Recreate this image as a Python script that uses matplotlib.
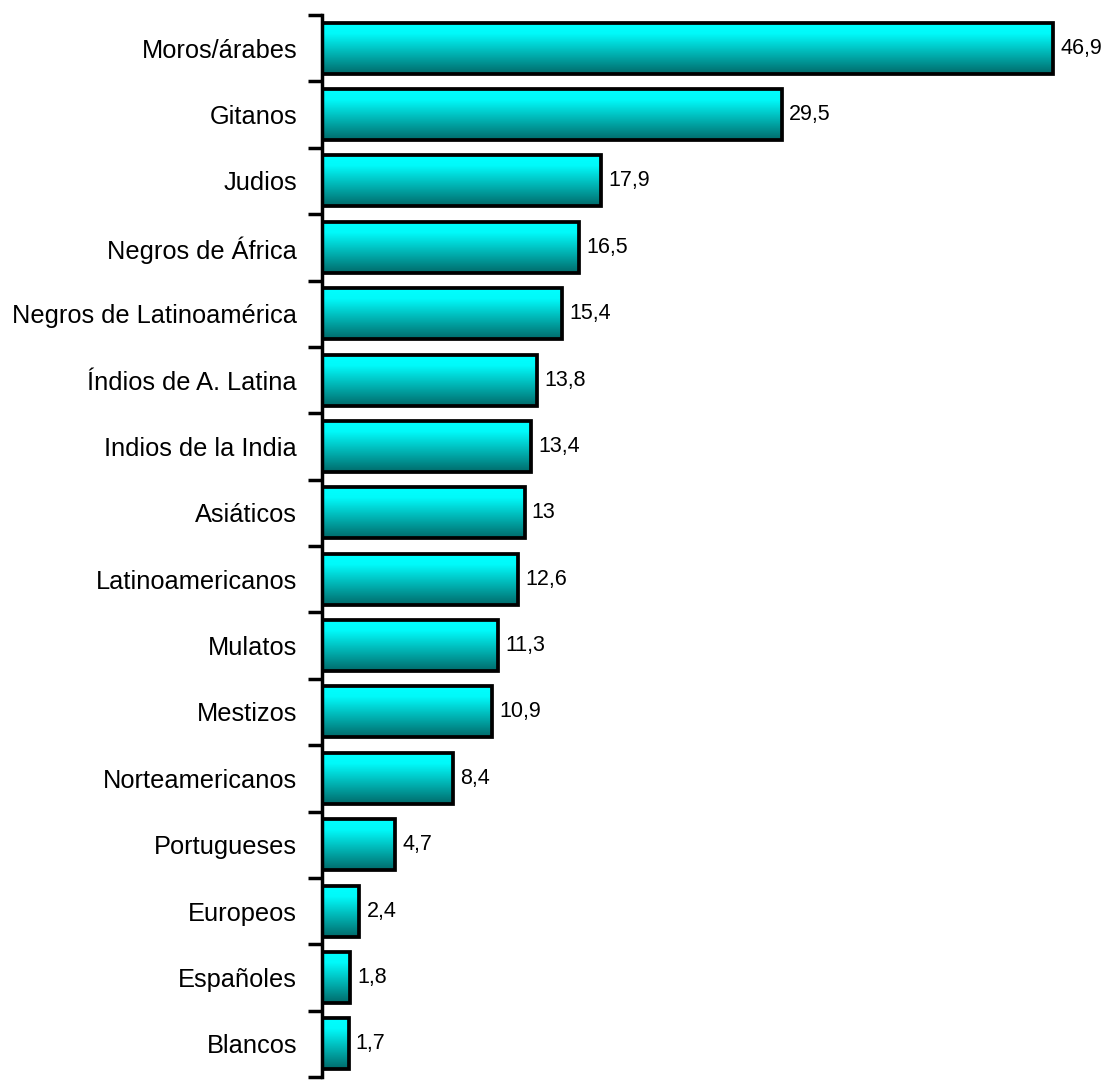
import matplotlib.pyplot as plt
import numpy as np
from matplotlib.colors import LinearSegmentedColormap

plt.rcParams['font.family'] = ['Liberation Sans', 'DejaVu Sans']

categorias = ['Moros/árabes', 'Gitanos', 'Judios', 'Negros de África',
              'Negros de Latinoamérica', 'Índios de A. Latina',
              'Indios de la India', 'Asiáticos', 'Latinoamericanos',
              'Mulatos', 'Mestizos', 'Norteamericanos', 'Portugueses',
              'Europeos', 'Españoles', 'Blancos']
valores = [46.9, 29.5, 17.9, 16.5, 15.4, 13.8, 13.4, 13, 12.6, 11.3,
           10.9, 8.4, 4.7, 2.4, 1.8, 1.7]
etiquetas = ['46,9', '29,5', '17,9', '16,5', '15,4', '13,8', '13,4', '13',
             '12,6', '11,3', '10,9', '8,4', '4,7', '2,4', '1,8', '1,7']

# degradado cian -> verde azulado oscuro
cmap = LinearSegmentedColormap.from_list(
    'cian', [(0, '#00ffff'), (0.22, '#00fafa'), (1, '#006a6a')])
grad = np.linspace(0, 1, 256).reshape(-1, 1)

fig = plt.figure(figsize=(11.16, 10.8), dpi=100)
ax = fig.add_axes([322 / 1116, 3 / 1080, (1116 - 322) / 1116, (1077 - 15) / 1080])

n = len(categorias)
pos = np.arange(n)
alto = 0.77
xmax = (1116 - 322) / 15.59

for y, v, txt in zip(pos, valores, etiquetas):
    ax.imshow(grad, cmap=cmap, aspect='auto', interpolation='bilinear',
              extent=[0, v, y + alto / 2, y - alto / 2], zorder=2)
    ax.add_patch(plt.Rectangle((0, y - alto / 2), v, alto, fill=False,
                               edgecolor='black', linewidth=2.7, zorder=3))
    ax.text(v + 0.45, y, txt, va='center', ha='left', fontsize=15.5)

ax.set_xlim(0, xmax)
ax.set_ylim(n - 0.5, -0.5)

ax.set_yticks(pos)
ax.set_yticklabels(categorias, fontsize=18.3)
ax.tick_params(axis='y', which='major', length=0, pad=18)
ax.set_yticks(np.arange(n + 1) - 0.5, minor=True)
ax.tick_params(axis='y', which='minor', length=10, width=2.5, direction='out')
ax.set_xticks([])

for s in ['top', 'right', 'bottom']:
    ax.spines[s].set_visible(False)
ax.spines['left'].set_linewidth(2.5)

plt.savefig('out.png', dpi=100)
